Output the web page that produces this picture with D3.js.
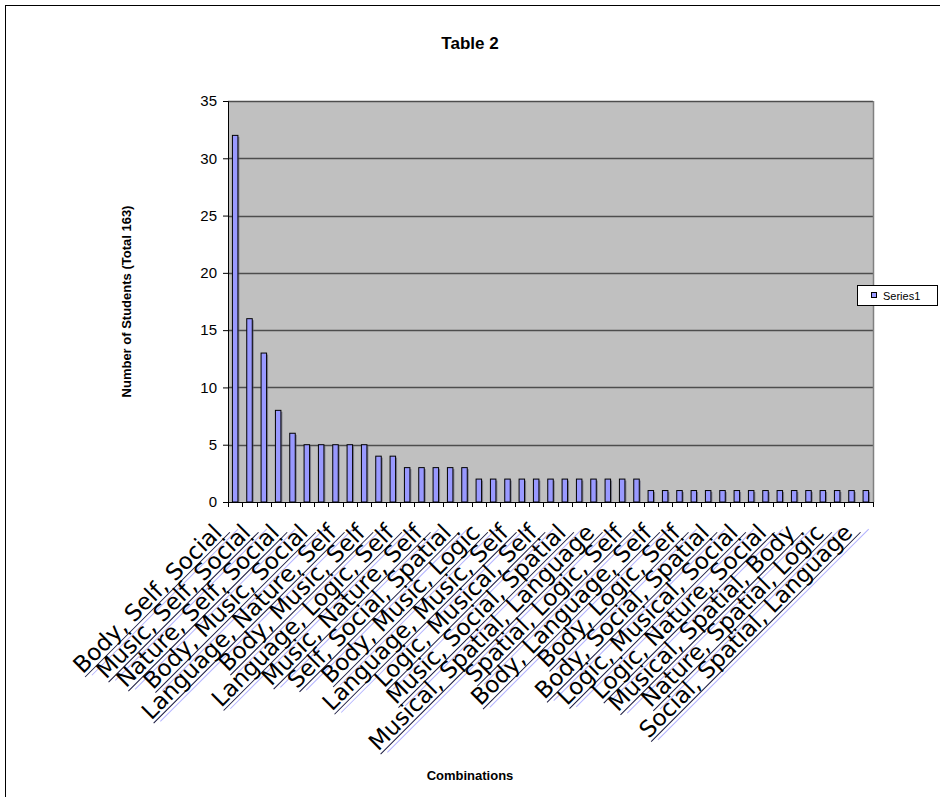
<!DOCTYPE html>
<html>
<head>
<meta charset="utf-8">
<script src="https://cdn.jsdelivr.net/npm/d3@7/dist/d3.min.js"></script>
<style>
  html, body { margin: 0; padding: 0; background: #fff; }
  svg { display: block; }
</style>
</head>
<body>
<svg id="chart" width="940" height="797"></svg>
<script>
// Number of students per combination of intelligences (45 combinations, 163 students)
const values = [
  32, 16, 13, 8, 6,
  5, 5, 5, 5, 5,
  4, 4,
  3, 3, 3, 3, 3,
  2, 2, 2, 2, 2, 2, 2, 2, 2, 2, 2, 2,
  1, 1, 1, 1, 1, 1, 1, 1, 1, 1, 1, 1, 1, 1, 1, 1
];

// Category labels shown on every second category
const tickLabels = [
  "Body, Self, Social", "Music, Self, Social", "Nature, Self, Social",
  "Body, Music, Social", "Language, Nature, Self", "Body, Music, Self",
  "Language, Logic, Self", "Music, Nature, Self", "Self, Social, Spatial",
  "Body, Music, Logic", "Language, Music, Self", "Logic, Musical, Self",
  "Music, Social, Spatial", "Musical, Spatial, Language", "Spatial, Logic, Self",
  "Body, Language, Self", "Body, Logic, Self", "Body, Social, Spatial",
  "Logic, Musical, Social", "Logic, Nature, Social", "Musical, Spatial, Body",
  "Nature, Spatial, Logic", "Social, Spatial, Language"
];

const yTicks = [0, 5, 10, 15, 20, 25, 30, 35];
const seriesName = "Series1";

const svg = d3.select("#chart");
const W = 940, H = 797;
const plot = { left: 228, top: 101, right: 873, bottom: 502 };

// outer chart frame
svg.append("rect")
  .attr("x", 5.5).attr("y", 5.5)
  .attr("width", W).attr("height", H)
  .attr("fill", "#fff").attr("stroke", "#000").attr("stroke-width", 1);

const x = d3.scaleBand()
  .domain(d3.range(values.length))
  .range([plot.left, plot.right])
  .paddingInner(0)
  .paddingOuter(0);

const y = d3.scaleLinear()
  .domain([0, 35])
  .range([plot.bottom, plot.top]);

// plot background
svg.append("rect")
  .attr("x", plot.left).attr("y", plot.top)
  .attr("width", plot.right - plot.left)
  .attr("height", plot.bottom - plot.top)
  .attr("fill", "#C0C0C0");

// horizontal gridlines
svg.append("g")
  .selectAll("line")
  .data(yTicks.filter(t => t > 0))
  .join("line")
  .attr("x1", plot.left).attr("x2", plot.right)
  .attr("y1", d => Math.round(y(d)) + 0.5)
  .attr("y2", d => Math.round(y(d)) + 0.5)
  .attr("stroke", "#4d4d4d")
  .attr("stroke-width", 1.4);

// right edge of plot area
svg.append("line")
  .attr("x1", plot.right + 0.5).attr("x2", plot.right + 0.5)
  .attr("y1", plot.top).attr("y2", plot.bottom)
  .attr("stroke", "#808080").attr("stroke-width", 1.5);

// bars with a soft dark edge on their right side
const barW = 5.5;
const bars = svg.append("g");
bars.selectAll("rect.shadow")
  .data(values)
  .join("rect")
  .attr("class", "shadow")
  .attr("x", (d, i) => x(i) + x.bandwidth() / 2 - barW / 2 + 1.5)
  .attr("y", d => y(d) + 1.5)
  .attr("width", barW)
  .attr("height", d => y(0) - y(d) - 1.5)
  .attr("fill", "#5a5a70")
  .attr("opacity", 0.6);
bars.selectAll("rect.bar")
  .data(values)
  .join("rect")
  .attr("class", "bar")
  .attr("x", (d, i) => x(i) + x.bandwidth() / 2 - barW / 2)
  .attr("y", d => y(d))
  .attr("width", barW)
  .attr("height", d => y(0) - y(d))
  .attr("fill", "#9999FF")
  .attr("stroke", "#000")
  .attr("stroke-width", 1);

// y axis
const yAxis = d3.axisLeft(y)
  .tickValues(yTicks)
  .tickSize(5)
  .tickPadding(6)
  .tickFormat(d3.format("d"));
const gy = svg.append("g")
  .attr("transform", `translate(${plot.left},0)`)
  .call(yAxis);
gy.select(".domain").attr("stroke", "#000");
gy.selectAll(".tick line").attr("stroke", "#000");
gy.selectAll(".tick text")
  .attr("font-family", "Arial, 'Liberation Sans', sans-serif")
  .attr("font-size", 15)
  .attr("fill", "#000");

// x axis: ticks at category boundaries
const gx = svg.append("g").attr("transform", `translate(0,${plot.bottom})`);
gx.append("line")
  .attr("x1", plot.left).attr("x2", plot.right)
  .attr("y1", 0.5).attr("y2", 0.5)
  .attr("stroke", "#000");
gx.selectAll("line.tk")
  .data(d3.range(values.length + 1))
  .join("line")
  .attr("class", "tk")
  .attr("x1", i => Math.round(plot.left + i * x.step()) + 0.5)
  .attr("x2", i => Math.round(plot.left + i * x.step()) + 0.5)
  .attr("y1", 0).attr("y2", 5)
  .attr("stroke", "#000");

// category labels, rotated 45 degrees and underlined
const labelG = svg.append("g");
const lab = labelG.selectAll("g.lab")
  .data(tickLabels)
  .join("g")
  .attr("class", "lab")
  .attr("transform", (d, i) => {
    const cx = x(i * 2) + x.bandwidth() / 2;
    return `translate(${cx - 12},${plot.bottom + 32}) rotate(-45)`;
  });
const labText = lab.append("text")
  .attr("text-anchor", "end")
  .attr("font-family", "'DejaVu Sans', Verdana, sans-serif")
  .attr("font-size", 23)
  .attr("fill", "#000")
  .text(d => d);
labText.each(function () {
  const len = this.getComputedTextLength();
  const g = d3.select(this.parentNode);
  g.insert("line", "text")
    .attr("x1", -len + 6).attr("x2", 14)
    .attr("y1", 7).attr("y2", 7)
    .attr("stroke", "#b3b3ff").attr("stroke-width", 1);
  g.insert("line", "text")
    .attr("x1", -len).attr("x2", 6)
    .attr("y1", 3.5).attr("y2", 3.5)
    .attr("stroke", "#1a1a40").attr("stroke-width", 1);
});

// titles
svg.append("text")
  .attr("x", 470).attr("y", 49)
  .attr("text-anchor", "middle")
  .attr("font-family", "Arial, 'Liberation Sans', sans-serif")
  .attr("font-weight", "bold")
  .attr("font-size", 17)
  .text("Table 2");

svg.append("text")
  .attr("transform", `translate(131,${(plot.top + plot.bottom) / 2}) rotate(-90)`)
  .attr("text-anchor", "middle")
  .attr("font-family", "Arial, 'Liberation Sans', sans-serif")
  .attr("font-weight", "bold")
  .attr("font-size", 13)
  .text("Number of Students (Total 163)");

svg.append("text")
  .attr("x", 470).attr("y", 780)
  .attr("text-anchor", "middle")
  .attr("font-family", "Arial, 'Liberation Sans', sans-serif")
  .attr("font-weight", "bold")
  .attr("font-size", 13)
  .text("Combinations");

// legend
const lg = svg.append("g").attr("transform", "translate(857,285)");
lg.append("rect")
  .attr("x", 0.5).attr("y", 0.5)
  .attr("width", 80).attr("height", 20)
  .attr("fill", "#fff").attr("stroke", "#000");
lg.append("rect")
  .attr("x", 14.5).attr("y", 7.5)
  .attr("width", 5).attr("height", 5)
  .attr("fill", "#9999FF").attr("stroke", "#000");
lg.append("text")
  .attr("x", 26).attr("y", 15)
  .attr("font-family", "Arial, 'Liberation Sans', sans-serif")
  .attr("font-size", 11)
  .text(seriesName);
</script>
</body>
</html>
